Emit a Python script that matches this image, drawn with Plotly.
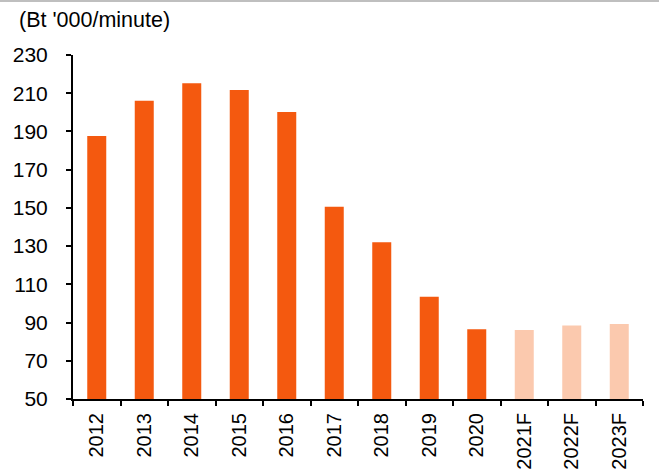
import plotly.graph_objects as go

categories = ["2012", "2013", "2014", "2015", "2016", "2017", "2018", "2019", "2020", "2021F", "2022F", "2023F"]
values = [187.6, 206.1, 215.2, 211.7, 200.2, 150.6, 132.0, 103.5, 86.5, 86.1, 88.4, 89.2]
forecast = [False] * 9 + [True] * 3
y_ticks = [50, 70, 90, 110, 130, 150, 170, 190, 210, 230]
unit_label = "(Bt '000/minute)"

ACT = "#F4590F"
FC = "#FBC9AE"
colors = [FC if f else ACT for f in forecast]

W, H = 659, 472
ml, mr, mt, mb = 73, 16, 55, 73
ph = H - mt - mb
pw = W - ml - mr

fig = go.Figure(go.Bar(
    x=categories, y=values, marker=dict(color=colors, line=dict(width=0)),
    width=0.4,
))

font = "Liberation Sans, Arial, sans-serif"
fig.update_layout(
    width=W, height=H,
    margin=dict(l=ml, r=mr, t=mt, b=mb, autoexpand=False),
    plot_bgcolor="white", paper_bgcolor="white",
    showlegend=False,
    font=dict(family=font, size=20, color="#000000"),
    xaxis=dict(
        type="category", showline=True, linecolor="black", linewidth=2,
        ticks="outside", tickson="boundaries", ticklen=5, tickwidth=2, tickcolor="black",
        tickangle=-90, showgrid=False, zeroline=False, automargin=False,
        tickfont=dict(size=20), range=[-0.5, 11.5], ticklabelstandoff=4,
    ),
    yaxis=dict(
        range=[50, 230], tickvals=y_ticks, showline=True, linecolor="black", linewidth=2,
        ticks="outside", ticklen=5, tickwidth=2, tickcolor="black",
        showgrid=False, zeroline=False, tickfont=dict(size=21), automargin=False,
        ticklabelstandoff=14,
    ),
    annotations=[dict(
        text=unit_label, xref="paper", yref="paper",
        x=(17 - ml) / pw, y=1 + (mt - 20) / ph, xanchor="left", yanchor="middle",
        showarrow=False, font=dict(size=21.5, family=font, color="#000000"),
    )],
    shapes=[dict(
        type="line", xref="paper", yref="paper",
        x0=-ml / pw, x1=1 + mr / pw, y0=1 + (mt - 1) / ph, y1=1 + (mt - 1) / ph,
        line=dict(color="#BFBFBF", width=2),
    )],
)

fig.write_html(
    "out.html",
    config={"displayModeBar": False},
    post_script="document.body.style.margin='0';document.body.style.overflow='hidden';",
)
